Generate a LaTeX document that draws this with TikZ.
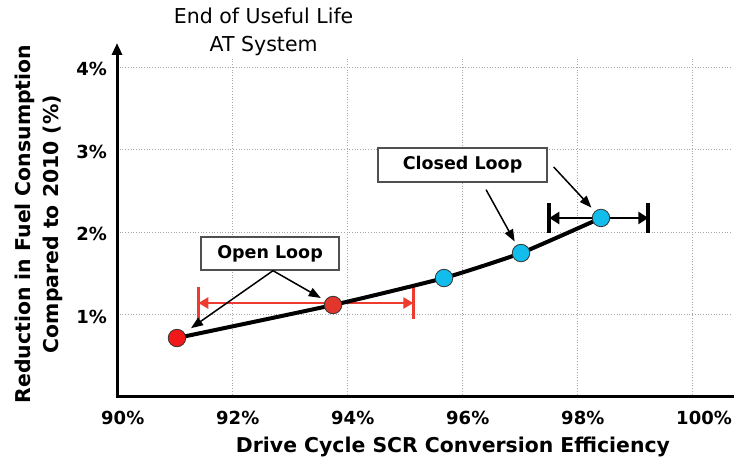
\documentclass[tikz,border=0pt]{standalone}
\usepackage{fontspec}
\setmainfont{DejaVu Sans}
\usetikzlibrary{arrows.meta,calc}
\definecolor{cianLazo}{HTML}{12BDEB}
\definecolor{rojoLazo}{HTML}{F01818}
\definecolor{rojoMedio}{HTML}{E2352B}
\definecolor{rojoBarra}{HTML}{EE3B2F}
\definecolor{grisCaja}{HTML}{505050}

\begin{document}
\begin{tikzpicture}[x=57.5pt,y=82.5pt,>={Triangle[length=12pt,width=9pt]},
  punto/.style={circle,draw=black!80,line width=0.8pt,minimum size=17.5pt,inner sep=0pt},
  caja/.style={draw=grisCaja,line width=1.3pt,fill=white,inner sep=0pt,
    font=\fontsize{17.5}{20}\selectfont\bfseries},
  flecha/.style={->,line width=1.5pt,shorten >=5pt},
  etiq/.style={inner sep=0pt,font=\fontsize{18}{22}\selectfont\bfseries}]
  \useasboundingbox (-2.035,-0.739) rectangle (10.730,4.812);
  % rejilla
  \foreach \x in {2,4,...,10}
    \draw[gray!70,dotted,line width=0.7pt] (\x,0) -- (\x,4.11);
  \foreach \y in {1,...,4}
    \draw[gray!70,dotted,line width=0.7pt] (0,\y) -- (10.70,\y);
  % ejes
  \draw[line width=3pt,{Triangle[length=12pt,width=10pt]}-] (0,4.291) -- (0,0) -- (10.730,0);
  \foreach \v in {0,2,...,10}
    \node[etiq,anchor=base west] at ([xshift=-16pt]\v,-0.339) {\pgfmathparse{int(90+\v)}\pgfmathresult\%};
  \foreach \y in {1,...,4}
    \node[etiq,anchor=east] at ([xshift=-10pt,yshift=-2pt]0,\y) {\y\%};
  \node[font=\fontsize{20.4}{24}\selectfont\bfseries,anchor=base] (ejeX) at (5.843,-0.667)
    {Drive Cycle SCR Conversion Efficiency};
  \node[font=\fontsize{20.4}{28}\selectfont\bfseries,rotate=90,align=center] (ejeY) at (-1.357,2.097)
    {Reduction in Fuel Consumption\\Compared to 2010 (\%)};
  \node[font=\fontsize{20.5}{24}\selectfont,anchor=base] (titulo) at (2.55,4.533) {End of Useful Life};
  \node[font=\fontsize{20.5}{24}\selectfont,anchor=base] (subtitulo) at (2.55,4.182) {AT System};
  % datos
  \coordinate (d1) at (1.043,0.715);
  \coordinate (d2) at (3.757,1.115);
  \coordinate (d3) at (5.687,1.442);
  \coordinate (d4) at (7.026,1.745);
  \coordinate (d5) at (8.417,2.170);
  % barras de error
  \coordinate (ra) at (1.414,1.139);
  \coordinate (rb) at (5.153,1.139);
  \coordinate (na) at (7.518,2.170);
  \coordinate (nb) at (9.240,2.170);
  \draw[rojoBarra,line width=2.5pt,
    {Triangle[length=10pt,width=11pt]}-{Triangle[length=10pt,width=11pt]}] (ra) -- (rb);
  \draw[rojoBarra,line width=3pt] ($(ra)+(0,-0.19)$) -- ($(ra)+(0,0.19)$);
  \draw[rojoBarra,line width=3pt] ($(rb)+(0,-0.19)$) -- ($(rb)+(0,0.19)$);
  \draw[line width=2.5pt,
    {Triangle[length=10pt,width=12pt]}-{Triangle[length=10pt,width=12pt]}] (na) -- (nb);
  \draw[line width=4pt] ($(na)+(0,-0.18)$) -- ($(na)+(0,0.18)$);
  \draw[line width=4pt] ($(nb)+(0,-0.18)$) -- ($(nb)+(0,0.18)$);
  \draw[line width=4pt] plot[smooth,tension=0.3] coordinates {(d1) (d2) (d3) (d4) (d5)};
  \node[punto,fill=rojoLazo] (abierto1) at (d1) {};
  \node[punto,fill=rojoMedio] (abierto2) at (d2) {};
  \node[punto,fill=cianLazo] (cerrado0) at (d3) {};
  \node[punto,fill=cianLazo] (cerrado1) at (d4) {};
  \node[punto,fill=cianLazo] (cerrado2) at (d5) {};
  % rotulos
  \node[caja,minimum width=138pt,minimum height=33pt] (cajaAbierto) at (2.661,1.739) {Open Loop};
  \node[caja,minimum width=169pt,minimum height=34pt] (cajaCerrado) at (6.009,2.812) {Closed Loop};
  \coordinate (salA) at ([xshift=3pt]cajaAbierto.south);
  \coordinate (salB) at ([shift={(23.5pt,-7pt)}]cajaCerrado.south);
  \coordinate (salC) at ([shift={(6pt,-2pt)}]cajaCerrado.east);
  \draw[flecha,shorten >=8pt] (salA) -- (abierto1);
  \draw[flecha] (salA) -- (abierto2);
  \draw[flecha,shorten >=4pt] (salB) -- (cerrado1);
  \draw[flecha] (salC) -- (cerrado2);
\end{tikzpicture}
\end{document}
